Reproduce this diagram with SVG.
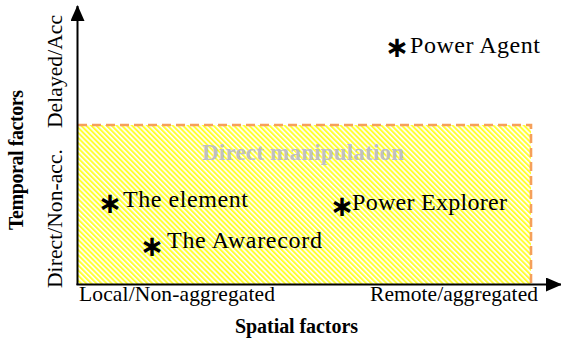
<svg xmlns="http://www.w3.org/2000/svg" width="561" height="340" viewBox="0 0 561 340">
<style>
.t{font-family:"Liberation Serif","Times New Roman",serif;font-size:24px;fill:#000}
.ax{font-family:"Liberation Serif","Times New Roman",serif;font-size:21.5px;fill:#000}
.b{font-family:"Liberation Serif","Times New Roman",serif;font-size:20px;font-weight:bold;fill:#000}
.dm{font-family:"Liberation Serif","Times New Roman",serif;font-size:23px;font-weight:bold;fill:#c0c0c0}
.ast{font-family:"DejaVu Sans",sans-serif;font-size:29px;font-weight:bold;fill:#000;text-anchor:middle}
.axis{stroke:#000;stroke-width:2;fill:none}
</style>
<defs>
<pattern id="hatch" patternUnits="userSpaceOnUse" width="3.6" height="10" patternTransform="rotate(-45)">
<rect width="3.6" height="10" fill="#fff"/>
<rect width="2" height="10" fill="#ffff33"/>
</pattern>
<marker id="arr" viewBox="0 0 16 14" refX="15" refY="7" markerWidth="16" markerHeight="14" markerUnits="userSpaceOnUse" orient="auto">
<path d="M0,0 L16,7 L0,14 Z" fill="#000"/>
</marker>
</defs>
<g id="region">
<rect x="78" y="125" width="453" height="159" fill="url(#hatch)"/>
<path d="M78,125 H531 V284" fill="none" stroke="#f5a05a" stroke-width="2.6" stroke-dasharray="9,5"/>
<text x="202" y="160" class="dm" textLength="202" lengthAdjust="spacing">Direct manipulation</text>
</g>
<g id="connectors">
<line x1="77.5" y1="285" x2="77.5" y2="6" class="axis" marker-end="url(#arr)"/>
<line x1="76.5" y1="284.5" x2="561" y2="284.5" class="axis" marker-end="url(#arr)"/>
</g>
<g id="axis-labels">
<text class="b" transform="translate(23,230) rotate(-90)" textLength="140" lengthAdjust="spacing">Temporal factors</text>
<text class="ax" transform="translate(62,128) rotate(-90)" textLength="113" lengthAdjust="spacing">Delayed/Acc</text>
<text class="ax" transform="translate(62,288) rotate(-90)" textLength="139" lengthAdjust="spacing">Direct/Non-acc.</text>
<text class="ax" x="79" y="301" textLength="196" lengthAdjust="spacing">Local/Non-aggregated</text>
<text class="ax" x="370" y="301" textLength="168" lengthAdjust="spacing">Remote/aggregated</text>
<text class="b" x="235" y="333" textLength="123" lengthAdjust="spacing">Spatial factors</text>
</g>
<g id="power-agent">
<text class="ast" x="397" y="57">∗</text>
<text class="t" x="410" y="53" textLength="130" lengthAdjust="spacing">Power Agent</text>
</g>
<g id="the-element">
<text class="ast" x="110" y="213">∗</text>
<text class="t" x="123" y="207" textLength="125" lengthAdjust="spacing">The element</text>
</g>
<g id="power-explorer">
<text class="ast" x="342" y="216">∗</text>
<text class="t" x="352" y="210" textLength="155" lengthAdjust="spacing">Power Explorer</text>
</g>
<g id="the-awarecord">
<text class="ast" x="152" y="256">∗</text>
<text class="t" x="167" y="248" textLength="155" lengthAdjust="spacing">The Awarecord</text>
</g>
</svg>
